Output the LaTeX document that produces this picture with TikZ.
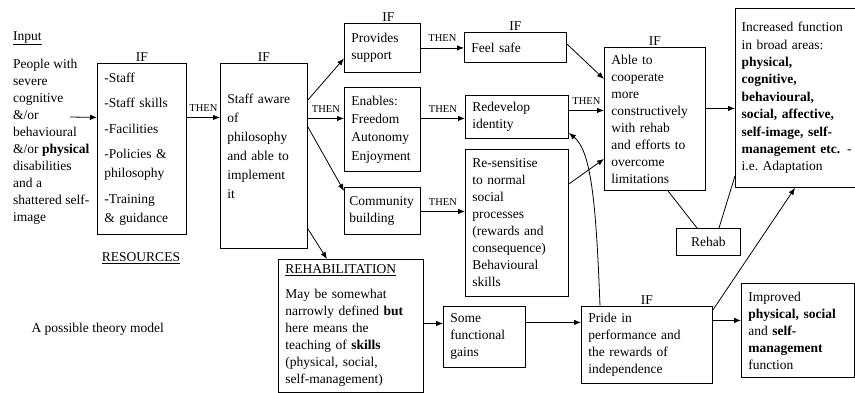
\documentclass[tikz,border=0pt]{standalone}
\usepackage{fontspec}
\setmainfont{Liberation Serif}
\usetikzlibrary{arrows.meta,positioning}
\begin{document}
\begin{tikzpicture}[x=1pt,y=-1pt,
	font=\fontsize{13.5}{17}\selectfont,
	box/.style={draw,line width=0.9pt,anchor=north west,align=left,inner xsep=7pt,inner ysep=2pt},
	iflabel/.style={inner sep=1pt},
	thenlabel/.style={font=\fontsize{10.5}{11}\selectfont,inner sep=1pt,above=5pt},
	conn/.style={line width=0.8pt,-{Latex[length=7pt,width=5.5pt]}},
	link/.style={line width=0.8pt}]
\useasboundingbox (0,0) rectangle (855,393);

\node[anchor=north west,inner sep=0pt] (intitle) at (13,31) {\underline{Input}};
\node[anchor=north west,align=left,inner sep=0pt] (input) at (13,59)
	{People with\\ severe\\ cognitive\\ \&/or\\ behavioural\\ \&/or \textbf{physical}\\ disabilities\\ and a\\ shattered self-\\ image};
\coordinate (instart) at (70,117);

\node[box,text width=75pt,minimum height=171pt,font=\fontsize{13.5}{19}\selectfont] (res) at (97,63)
	{-Staff\\[6.5pt] -Staff skills\\[6.5pt] -Facilities\\[6.5pt] -Policies \&\\ philosophy\\[6.5pt] -Training\\ \& guidance};
\node (restitle) at (141,258) {\underline{RESOURCES}};
\node[box,text width=73pt,minimum height=185pt,font=\fontsize{13.5}{19}\selectfont] (staff) at (220,63)
	{Staff aware\\ of\\ philosophy\\ and able to\\ implement\\ it\\ \mbox{}};

\node[box,text width=62pt,minimum height=49pt] (prov) at (344,23) {Provides\\ support};
\node[box,text width=62pt,minimum height=84pt,font=\fontsize{13.5}{18.3}\selectfont] (enab) at (344,87)
	{Enables:\\ Freedom\\ Autonomy\\ Enjoyment};
\node[box,text width=66pt,inner xsep=5pt,minimum height=47pt] (comm) at (344,187) {Community\\ building};

\node[box,text width=88pt,minimum height=30pt] (feel) at (464,32) {Feel safe};
\node[box,text width=89pt,minimum height=43pt] (redev) at (465,95) {Redevelop\\ identity};
\node[box,text width=89pt,minimum height=147pt] (resen) at (465,149)
	{Re-sensitise\\ to normal\\ social\\ processes\\ (rewards and\\ consequence)\\ Behavioural\\ skills};

\node[box,text width=87pt,minimum height=143pt] (able) at (604,47)
	{Able to\\ cooperate\\ more\\ constructively\\ with rehab\\ and efforts to\\ overcome\\ limitations};
\node[box,text width=107pt,inner xsep=6.25pt,minimum height=179pt,font=\fontsize{13.5}{17.4}\selectfont] (incr) at (735,8)
	{Increased function\\ in broad areas:\\ \textbf{physical,}\\ \textbf{cognitive,}\\ \textbf{behavioural,}\\ \mbox{\textbf{social, affective,}}\\ \mbox{\textbf{self-image, self-}}\\ \mbox{\textbf{management etc.} -}\\ i.e.\ Adaptation};
\node[box,align=center,text width=50pt,minimum height=27pt] (rehab) at (676,228) {Rehab};

\node[box,text width=131pt,minimum height=133pt] (rehabb) at (278,259)
	{\underline{REHABILITATION}\\[8pt] May be somewhat\\ narrowly defined \textbf{but}\\ here means the\\ teaching of \textbf{skills}\\ (physical, social,\\ self-management)};
\node[box,text width=68pt,minimum height=61pt] (gains) at (443,306) {Some\\ functional\\ gains};
\node[box,text width=117pt,minimum height=77pt] (pride) at (581,306)
	{Pride in\\ performance and\\ the rewards of\\ independence};
\node[box,text width=99pt,minimum height=94pt] (impr) at (741,283)
	{Improved\\ \textbf{physical, social}\\ and \textbf{self-}\\ \textbf{management}\\ function};

\node[anchor=west] (caption) at (28,329) {A possible theory model};

\node[iflabel,above=0pt of res] (ifres) {IF};
\node[iflabel,above=0pt of staff] (ifstaff) {IF};
\node[iflabel,above=0pt of prov,xshift=6pt] (ifprov) {IF};
\node[iflabel,above=0pt of feel] (iffeel) {IF};
\node[iflabel,above=0pt of able] (ifable) {IF};
\node[iflabel,above=0pt of pride] (ifpride) {IF};

\draw[conn] (instart) -- ([yshift=31.5pt]res.west);
\draw[conn] ([yshift=31.5pt]res.east) -- node[thenlabel] (then1) {THEN} ([yshift=38.5pt]staff.west);
\draw[conn] ([yshift=-37pt]staff.north east) -- ([yshift=-10.5pt]prov.west);
\draw[conn] ([yshift=37.5pt]staff.east) -- node[thenlabel] (then2) {THEN} ([yshift=11pt]enab.west);
\draw[conn] ([yshift=-64pt]staff.north east) -- ([yshift=-4pt]comm.north west);
\draw[conn] ([yshift=20pt]staff.south east) -- ([xshift=49pt]rehabb.north west);
\draw[conn] (prov.east) -- node[thenlabel] (then3) {THEN} (prov.east -| feel.west);
\draw[conn] ([yshift=11pt]enab.east) -- node[thenlabel] (then4) {THEN} ([yshift=-1.5pt]redev.west);
\draw[conn] ([yshift=-0.5pt]comm.east) -- node[thenlabel] (then5) {THEN} ([yshift=11.5pt]resen.west);
\draw[conn] ([yshift=6.5pt]redev.east) -- node[thenlabel] (then6) {THEN} ([yshift=8.5pt]able.west);
\draw[conn] ([yshift=-12pt]feel.north east) -- ([yshift=-32pt]able.north west);
\draw[conn] ([yshift=-35pt]resen.north east) -- ([yshift=32pt]able.south west);
\draw[conn] ([yshift=10.5pt]able.east) -- ([yshift=-10.5pt]incr.west);
\draw[link] ([xshift=64pt]able.south west) -- ([xshift=21pt]rehab.north west);
\draw[link] ([xshift=43pt]rehab.north west) -- ([yshift=12pt]incr.south west);
\draw[conn] ([yshift=2.5pt]rehabb.east) -- ([yshift=13.5pt]gains.west);
\draw[conn] ([yshift=14.5pt]gains.east) -- ([yshift=22.5pt]pride.west);
\draw[conn] ([yshift=24.5pt]pride.east) -- ([yshift=10pt]impr.west);
\draw[conn] ([yshift=-4pt]pride.north east) -- ([xshift=60pt]incr.south west);
\draw[conn] ([xshift=19pt]pride.north west) .. controls +(-4,-106) and +(22,18) .. ([yshift=6pt]redev.south east);
\end{tikzpicture}
\end{document}
